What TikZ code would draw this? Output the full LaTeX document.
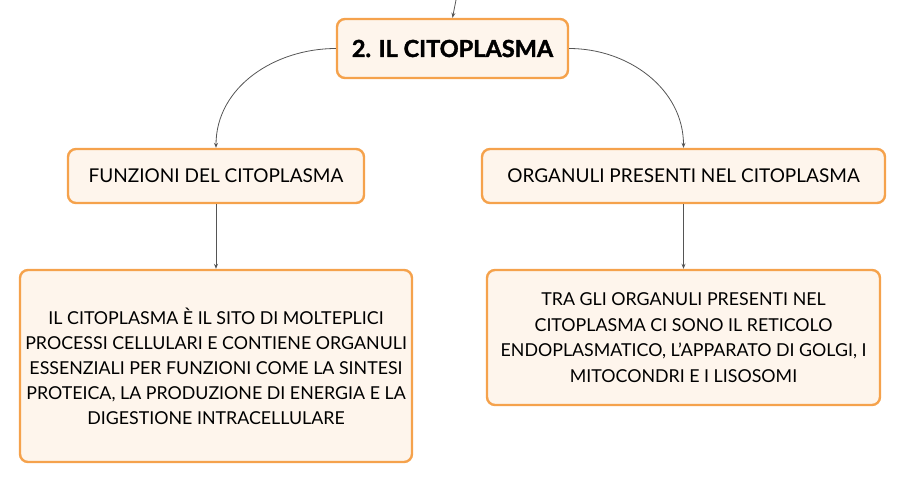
\documentclass[tikz,border=0pt]{standalone}
\usepackage{fontspec}
\setmainfont{Lato}
\newfontfamily\heavyfont{Lato}[BoldFeatures={FakeBold=1.6}]
\usetikzlibrary{arrows.meta}
\definecolor{boxfill}{HTML}{FEF5EC}
\definecolor{boxdraw}{HTML}{F5A24C}
\definecolor{linecol}{HTML}{555555}
\tikzset{
  box/.style={draw=boxdraw, fill=boxfill, line width=2.4pt, rounded corners=8pt, align=center, text=black, inner sep=0pt},
  conn/.style={draw=linecol, line width=0.8pt, -{Stealth[length=5pt,width=4pt]}},
}
\begin{document}
\begin{tikzpicture}[x=1pt,y=-1pt]
\useasboundingbox (0,0) rectangle (906,483);
\node[box, minimum width=231pt, minimum height=59pt, font=\fontsize{23.5}{28}\heavyfont\bfseries] (top) at (452.5,48.5) {2. IL CITOPLASMA};
\node[box, minimum width=296pt, minimum height=54pt, font=\fontsize{19}{22}\selectfont] (fl) at (216,176) {FUNZIONI DEL CITOPLASMA};
\node[box, minimum width=403pt, minimum height=54pt, font=\fontsize{19}{22}\selectfont] (fr) at (683.5,176) {ORGANULI PRESENTI NEL CITOPLASMA};
\node[box, minimum width=392pt, minimum height=192pt, font=\fontsize{17.8}{25}\selectfont] (bl) at (216,366) {IL CITOPLASMA È IL SITO DI MOLTEPLICI\\PROCESSI CELLULARI E CONTIENE ORGANULI\\ESSENZIALI PER FUNZIONI COME LA SINTESI\\PROTEICA, LA PRODUZIONE DI ENERGIA E LA\\DIGESTIONE INTRACELLULARE};
\node[box, minimum width=393pt, minimum height=135pt, font=\fontsize{17.8}{25.5}\selectfont] (br) at (683.5,337.5) {TRA GLI ORGANULI PRESENTI NEL\\CITOPLASMA CI SONO IL RETICOLO\\ENDOPLASMATICO, L'APPARATO DI GOLGI, I\\MITOCONDRI E I LISOSOMI};
\coordinate (src) at (456,0);
\draw[conn] (src) -- (top.north);
\draw[conn] (top.west) to[out=180,in=90] (fl.north);
\draw[conn] (top.east) to[out=0,in=90] (fr.north);
\draw[conn] (fl.south) -- (bl.north);
\draw[conn] (fr.south) -- (br.north);
\end{tikzpicture}
\end{document}
